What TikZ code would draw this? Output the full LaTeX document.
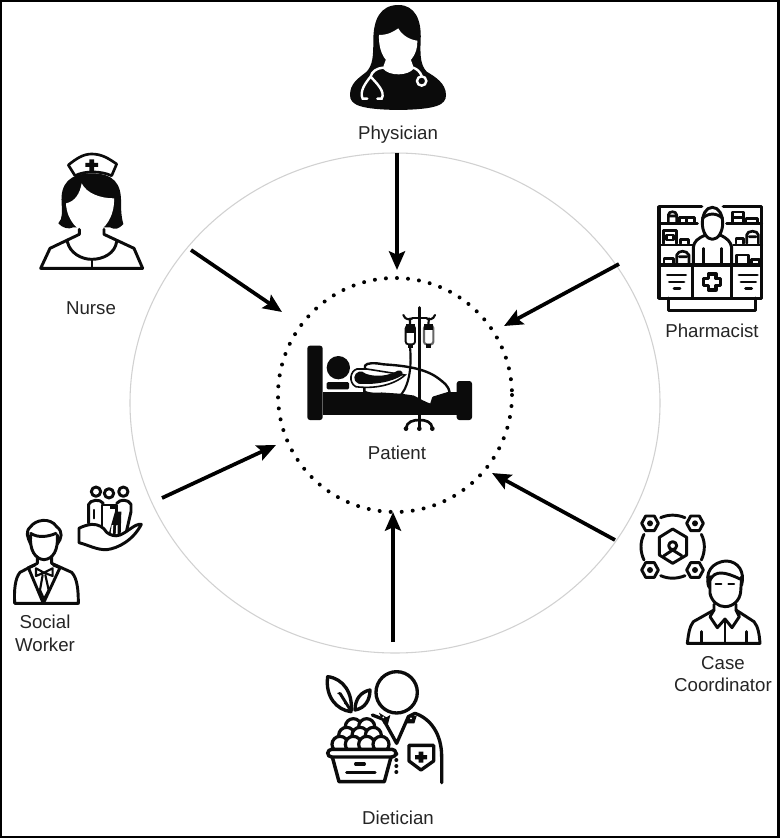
\documentclass[tikz,border=0pt]{standalone}
\usepackage{fontspec}
\setmainfont{Liberation Sans}
\usetikzlibrary{arrows.meta}
\definecolor{ink}{HTML}{0B0B0B}
\definecolor{lab}{HTML}{252525}
\tikzset{
  ringouter/.style={draw=black!18,line width=0.8pt},
  ringinner/.style={draw=black,line width=3pt,line cap=round,dash pattern=on 0pt off 8.3pt},
  flow/.style={draw=black,line width=2.8pt,-{Stealth[length=14pt,width=12pt,inset=2.5pt]}},
  lbl/.style={font=\fontsize{14}{17}\selectfont,text=lab,align=center,inner sep=0pt},
  ic/.style={draw=ink,line width=2.2pt,line join=round,line cap=round,fill=none},
  ict/.style={draw=ink,line width=1.6pt,line join=round,line cap=round,fill=none},
  blk/.style={fill=ink,draw=none},
  wht/.style={fill=white,draw=none},
  whl/.style={draw=white,line width=1.8pt,line cap=round,fill=none}
}
\begin{document}
\begin{tikzpicture}[x=0.75pt,y=-0.75pt]
\useasboundingbox (0,0) rectangle (780,838);
\fill[white] (0,0) rectangle (780,838);
\draw[black,line width=2pt] (1,1) rectangle (778.5,837);

% rings
\draw[ringouter] (395,403) ellipse [x radius=265,y radius=250];
\draw[ringinner] (395,395) circle [radius=117];

% labels
\node[lbl] (physician) at (398,135) {Physician};
\node[lbl] (nurse) at (91,308) {Nurse};
\node[lbl] (pharmacist) at (712,331) {Pharmacist};
\node[lbl] (patient) at (397,453) {Patient};
\node[lbl] (social) at (45,633) {Social\\Worker};
\node[lbl] (casec) at (723,674) {Case\\Coordinator};
\node[lbl] (dietician) at (398,818) {Dietician};

% connector ends
\coordinate (phyA) at (397,153);  \coordinate (phyB) at (397,270);
\coordinate (phaA) at (619,264);  \coordinate (phaB) at (504,326);
\coordinate (casA) at (615,540);  \coordinate (casB) at (492,473);
\coordinate (dieA) at (393,642);  \coordinate (dieB) at (393,512);
\coordinate (socA) at (162,498);  \coordinate (socB) at (276,445);
\coordinate (nurA) at (191,250);  \coordinate (nurB) at (282,312);
\draw[flow] (phyA) -- (phyB);
\draw[flow] (phaA) -- (phaB);
\draw[flow] (casA) -- (casB);
\draw[flow] (dieA) -- (dieB);
\draw[flow] (socA) -- (socB);
\draw[flow] (nurA) -- (nurB);

% ---------- Physician
\begin{scope}[shift={(330,0)},scale=1/3]
\path[blk] (205,15) .. controls (150,15) and (130,60) .. (130,120) .. controls (130,170) and (128,195) .. (110,215) .. controls (85,235) and (60,250) .. (60,285) .. controls (60,315) and (90,328) .. (205,330) .. controls (320,328) and (348,315) .. (348,285) .. controls (348,250) and (315,230) .. (290,215) .. controls (272,195) and (270,170) .. (272,120) .. controls (275,60) and (255,15) .. (205,15) -- cycle;
\path[wht] (147,105) .. controls (175,105) and (190,95) .. (205,85) .. controls (215,105) and (240,120) .. (262,122) .. controls (264,165) and (235,198) .. (205,198) .. controls (170,198) and (145,160) .. (147,105) -- cycle;
\path[wht] (168,178) -- (242,178) -- (252,205) .. controls (235,228) and (178,230) .. (158,205) -- cycle;
\draw[whl] (158,203) .. controls (140,205) and (125,215) .. (122,230);
\draw[whl] (122,230) .. controls (105,250) and (88,275) .. (98,296) -- (112,296);
\draw[whl] (122,230) .. controls (140,250) and (167,275) .. (155,296) -- (142,296);
\draw[whl] (250,203) .. controls (262,208) and (270,215) .. (275,228);
\draw[whl] (275,243) circle [radius=14];
\end{scope}

% ---------- Nurse
\begin{scope}[shift={(20,140)},scale=1/3]
\path[blk] (125,190) .. controls (120,130) and (150,100) .. (215,100) .. controls (280,100) and (305,130) .. (303,190) .. controls (303,215) and (305,235) .. (310,252) .. controls (295,268) and (285,270) .. (270,262) -- (160,262) .. controls (145,270) and (125,262) .. (115,250) .. controls (130,235) and (125,210) .. (125,190) -- cycle;
\path[wht] (138,190) .. controls (165,185) and (180,160) .. (185,130) .. controls (200,160) and (240,175) .. (282,175) .. controls (285,230) and (250,280) .. (212,280) .. controls (175,280) and (140,240) .. (138,190) -- cycle;
\path[draw=ink,line width=2pt,fill=white,line join=round] (145,75) .. controls (170,55) and (190,42) .. (215,42) .. controls (245,42) and (265,55) .. (290,72) -- (275,107) .. controls (240,92) and (195,92) .. (165,107) -- cycle;
\path[blk] (208,58) -- (222,58) -- (222,69) -- (234,69) -- (234,81) -- (222,81) -- (222,95) -- (208,95) -- (208,81) -- (196,81) -- (196,69) -- (208,69) -- cycle;
\draw[ic] (178,268) -- (178,283) -- (90,325) -- (62,385) -- (368,385) -- (342,325) -- (252,283) -- (252,268);
\draw[ic] (142,305) .. controls (150,340) and (185,358) .. (215,358) .. controls (250,358) and (285,340) .. (290,305);
\draw[ic,line width=1.6pt] (215,358) -- (215,385);
\end{scope}

% ---------- Pharmacist
\begin{scope}[shift={(640,190)},scale=1/3]
\draw[ic,line width=2.5pt] (185,50) -- (57,50) -- (57,225);
\draw[ic,line width=2.5pt] (250,50) -- (365,50) -- (365,225);
\draw[ic] (57,100) -- (172,100);
\draw[ic] (57,165) -- (160,165);
\draw[ic] (260,100) -- (365,100);
\draw[ic] (280,165) -- (365,165);
% head and body
\draw[ic] (217,52) .. controls (197,52) and (187,75) .. (187,100) .. controls (187,125) and (200,148) .. (217,148) .. controls (235,148) and (248,125) .. (248,100) .. controls (248,75) and (237,52) .. (217,52) -- cycle;
\draw[ic] (187,85) .. controls (205,68) and (230,68) .. (248,85);
\draw[ic] (160,225) -- (160,172) .. controls (162,155) and (172,145) .. (197,135);
\draw[ic] (275,225) -- (275,172) .. controls (272,155) and (262,145) .. (240,135);
\draw[ic,line width=1.8pt] (190,175) -- (190,225);
\draw[ic,line width=1.8pt] (245,175) -- (245,225);
% shelves
\draw[ict,line width=2pt] (85,95) -- (85,75) .. controls (85,62) and (110,62) .. (110,75) -- (110,95) (90,78) -- (105,78);
\draw[ict,line width=2pt] (118,95) -- (118,82) -- (163,82) -- (163,95) (140,82) -- (140,95);
\draw[ict,line width=2pt] (278,95) -- (278,66) -- (310,66) -- (310,95) (278,82) -- (310,82);
\draw[ict,line width=2pt] (318,95) -- (318,85) -- (352,85) -- (352,95);
\draw[ict,line width=2pt] (70,160) -- (70,122) -- (110,122) -- (110,160) (80,135) rectangle (100,150);
\draw[ict,line width=2pt] (122,160) -- (122,148) -- (145,148) -- (145,160);
\draw[ict,line width=2pt] (288,160) -- (288,145) -- (310,145) -- (310,160);
\draw[ict,line width=2pt] (320,160) -- (320,135) .. controls (320,120) and (355,120) .. (355,135) -- (355,160) (328,140) -- (348,140);
\draw[ict,line width=2pt] (72,220) -- (72,205) -- (100,205) -- (100,220);
\draw[ict,line width=2pt] (110,220) -- (110,195) .. controls (115,180) and (140,180) .. (147,195) -- (147,220) (118,200) -- (140,200);
\draw[ict,line width=2pt] (290,220) -- (290,195) -- (325,195) -- (325,220);
\draw[ict,line width=2pt] (335,220) -- (335,208) -- (358,208) -- (358,220);
% counter
\draw[ic,line width=2.5pt] (57,225) rectangle (365,325);
\draw[ic] (158,225) -- (158,325);
\draw[ic] (275,225) -- (275,325);
\draw[ic,line width=2.5pt] (85,325) -- (85,362) -- (347,362) -- (347,325);
\draw[ic,line width=2.5pt] (205,252) -- (228,252) -- (228,266) -- (242,266) -- (242,286) -- (228,286) -- (228,300) -- (205,300) -- (205,286) -- (190,286) -- (190,266) -- (205,266) -- cycle;
\draw[ic] (82,255) -- (137,255) (88,276) -- (132,276) (102,296) -- (120,296);
\draw[ic] (297,255) -- (352,255) (303,276) -- (347,276) (317,296) -- (335,296);
\end{scope}

% ---------- Patient
\begin{scope}[shift={(295,295)},scale=1/3]
\path[blk,rounded corners=2pt] (37,152) rectangle (83,375);
\path[blk,rounded corners=2pt] (485,258) rectangle (531,375);
\path[blk] (83,290) rectangle (485,360);
\path[blk] (130,218) circle [radius=35];
\path[blk,rounded corners=1pt] (95,261) rectangle (162,283);
% blanket
\path[draw=ink,line width=1.8pt,fill=white,line join=round] (210,212) .. controls (215,203) and (240,203) .. (265,208) .. controls (330,212) and (390,220) .. (430,250) .. controls (445,262) and (460,270) .. (464,293) -- (415,308) -- (408,330) .. controls (390,325) and (375,315) .. (355,305) -- (320,300) -- (260,296) .. controls (235,298) and (215,295) .. (208,290) -- cycle;
% arm
\path[draw=ink,line width=1.2pt,fill=white] (186,222) .. controls (165,228) and (160,262) .. (182,275) .. controls (235,282) and (295,272) .. (330,240) -- (215,222) -- cycle;
\path[blk] (192,230) .. controls (175,235) and (172,258) .. (190,266) .. controls (235,270) and (290,262) .. (323,240) .. controls (325,226) and (312,222) .. (298,232) .. controls (270,245) and (235,245) .. (212,236) .. controls (205,230) and (198,228) .. (192,230) -- cycle;
\draw[ict] (345,155) .. controls (350,210) and (345,265) .. (318,300);
% IV pole
\draw[draw=ink,line width=2.3pt,line cap=round] (373,38) -- (373,400);
\draw[draw=ink,line width=1.6pt,line cap=round] (325,60) .. controls (330,75) and (345,75) .. (352,70) (345,70) -- (345,88);
\draw[draw=ink,line width=1.6pt,line cap=round] (420,60) .. controls (415,75) and (400,75) .. (395,70) (402,70) -- (400,88);
\draw[draw=ink,line width=1.6pt,line cap=round] (352,70) -- (395,70);
\path[draw=ink,line width=1.4pt,fill=white,rounded corners=2pt] (332,92) rectangle (360,148);
\path[blk] (332,88) rectangle (360,114);
\path[blk] (338,148) rectangle (354,158);
\path[draw=black!60,line width=1.6pt,fill=white,rounded corners=2pt] (387,92) rectangle (415,148);
\path[blk] (387,86) rectangle (415,106);
\path[blk] (393,148) rectangle (409,158);
% base
\draw[draw=ink,line width=2pt] (333,400) .. controls (335,380) and (355,375) .. (373,375) .. controls (392,375) and (410,380) .. (412,400);
\path[blk] (333,401) circle [radius=7];
\path[blk] (373,401) circle [radius=7];
\path[blk] (412,401) circle [radius=7];
\end{scope}

% ---------- Social worker
\begin{scope}[shift={(0,475)},scale=1/3]
\draw[ic] (92,207) .. controls (82,185) and (75,170) .. (92,155) .. controls (105,135) and (150,125) .. (170,155) .. controls (190,170) and (185,190) .. (172,207);
\draw[ic] (92,175) .. controls (115,190) and (145,185) .. (168,175);
\draw[ic] (92,180) .. controls (88,225) and (105,252) .. (132,254) .. controls (160,252) and (175,225) .. (172,180);
\draw[ic] (112,245) -- (112,265) -- (60,292) .. controls (45,310) and (42,345) .. (44,385) -- (235,385) .. controls (235,345) and (232,310) .. (215,292) -- (155,265) -- (155,245);
\draw[ic] (105,270) -- (85,278) -- (130,385) (160,270) -- (180,278) -- (130,385);
\draw[ict] (108,280) -- (132,293) -- (158,280) -- (158,303) -- (132,293) -- (108,303) -- cycle;
\draw[ict] (128,300) -- (120,345) -- (132,372) -- (146,345) -- (136,300);
% group
\draw[ic] (288,50) circle [radius=14];
\draw[ic] (327,55) circle [radius=14];
\draw[ic] (370,50) circle [radius=14];
\draw[ic] (266,145) -- (266,88) .. controls (270,75) and (300,70) .. (310,85) (350,85) .. controls (360,72) and (385,72) .. (393,88) -- (393,110) -- (378,175);
\draw[ic] (306,170) -- (306,90) -- (350,90) -- (350,180);
\path[blk] (325,180) -- (345,110) -- (364,110) -- (362,180) -- cycle;
\path[wht] (332,178) -- (335,150) -- (340,150) -- (338,178) -- cycle;
\path[wht] (347,178) -- (349,150) -- (353,150) -- (353,178) -- cycle;
\path[blk] (330,92) rectangle (345,103);
\draw[ict] (282,105) -- (282,130);
% hand
\path[draw=ink,line width=2.2pt,fill=white,line join=round,line cap=round] (237,160) -- (237,203) .. controls (265,210) and (290,225) .. (320,224) .. controls (355,220) and (400,195) .. (424,148) .. controls (405,145) and (385,170) .. (360,180) .. controls (345,186) and (330,180) .. (320,172) .. controls (310,155) and (295,148) .. (275,148) .. controls (260,150) and (245,155) .. (237,160) -- cycle;
\end{scope}

% ---------- Case coordinator
\begin{scope}[shift={(630,505)},scale=1/3]
\foreach \cx/\cy in {60/55,195/55,60/195,195/195}{
  \draw[ic] (\cx-25,\cy) -- (\cx-13,\cy-22) -- (\cx+13,\cy-22) -- (\cx+25,\cy) -- (\cx+13,\cy+22) -- (\cx-13,\cy+22) -- cycle;
  \path[blk] (\cx,\cy) circle [radius=9];
}
\draw[ic] (92,38) .. controls (115,28) and (140,28) .. (165,38);
\draw[ic] (92,212) .. controls (115,222) and (140,222) .. (165,212);
\draw[ic] (42,88) .. controls (30,110) and (30,140) .. (42,165);
\draw[ic] (214,88) .. controls (226,110) and (226,140) .. (214,165);
\draw[ic] (128,72) -- (170,97) -- (170,150) -- (128,175) -- (88,150) -- (88,97) -- cycle;
\draw[ic] (128,122) circle [radius=12];
\draw[ic] (102,152) -- (128,135) -- (155,152);
% person
\draw[ic] (238,245) .. controls (222,205) and (245,170) .. (290,168) .. controls (325,170) and (345,200) .. (335,240);
\draw[ic] (240,225) .. controls (255,195) and (285,200) .. (330,222);
\path[blk] (230,228) .. controls (228,240) and (232,250) .. (240,254) -- (240,225) -- cycle;
\draw[ic] (240,215) -- (240,265) .. controls (245,290) and (265,305) .. (285,305) .. controls (310,305) and (330,285) .. (332,260) -- (335,215);
\draw[ict] (257,238) -- (274,238) (295,238) -- (312,238);
\draw[ic] (252,298) -- (252,315) -- (190,350) .. controls (178,365) and (175,390) .. (172,415) -- (390,415) .. controls (388,390) and (385,365) .. (372,350) -- (318,315) -- (318,298);
\draw[ic] (252,315) -- (240,335) -- (262,368) -- (285,342) -- (306,368) -- (328,335) -- (318,315);
\draw[ic,line width=1.6pt] (285,342) -- (285,415);
\draw[ic] (215,380) -- (215,415) (350,380) -- (350,415);
\end{scope}

% ---------- Dietician
\begin{scope}[shift={(315,660)},scale=1/3]
\draw[ic,line width=2.5pt] (245,97) circle [radius=62];
% leaves
\draw[ic,line width=2.5pt] (38,50) .. controls (85,55) and (115,100) .. (108,155) .. controls (65,150) and (30,110) .. (38,50) -- cycle;
\draw[ic] (75,100) -- (105,148);
\path[blk] (70,100) circle [radius=3];
\path[blk] (90,130) circle [radius=3];
\draw[ic,line width=2.5pt] (120,150) .. controls (120,115) and (140,95) .. (165,90) .. controls (165,120) and (150,145) .. (120,150) -- cycle;
% fruit
\foreach \fx/\fy in {115/200,155/200,95/226,135/226,175/226,75/253,115/253,155/253,198/253}{
  \path[draw=ink,line width=2.4pt,fill=white] (\fx,\fy) circle [radius=24];
}
\path[wht] (30,272) rectangle (250,300);
% basket
\draw[ic,line width=2.6pt,rounded corners=3pt] (38,268) rectangle (243,291);
\draw[ic,line width=2.6pt] (52,291) -- (72,365) -- (208,365) -- (228,291);
\draw[ic,line width=2.5pt] (122,312) -- (148,312) (95,338) -- (180,338);
% coat
\draw[ic,line width=2.5pt] (172,165) -- (205,178) -- (245,250) -- (280,170) -- (300,160) .. controls (345,175) and (380,220) .. (380,290) -- (380,368);
\path[blk] (192,158) -- (214,172) -- (226,165) -- (218,196) -- (205,190) -- cycle;
\path[blk] (270,190) -- (278,165) -- (305,168) -- (298,190) -- cycle;
\path[wht] (205,172) circle [radius=3];
\path[wht] (288,175) circle [radius=3];
\draw[ic,line width=2.5pt] (282,256) -- (356,256) -- (356,303) -- (318,330) -- (282,303) -- cycle;
\path[blk] (311,275) -- (325,275) -- (325,285) -- (336,285) -- (336,298) -- (325,298) -- (325,308) -- (311,308) -- (311,298) -- (300,298) -- (300,285) -- (311,285) -- cycle;
\foreach \dy in {282,300,318,336}{\path[blk] (244,\dy) circle [radius=6];}
\end{scope}
\end{tikzpicture}
\end{document}
